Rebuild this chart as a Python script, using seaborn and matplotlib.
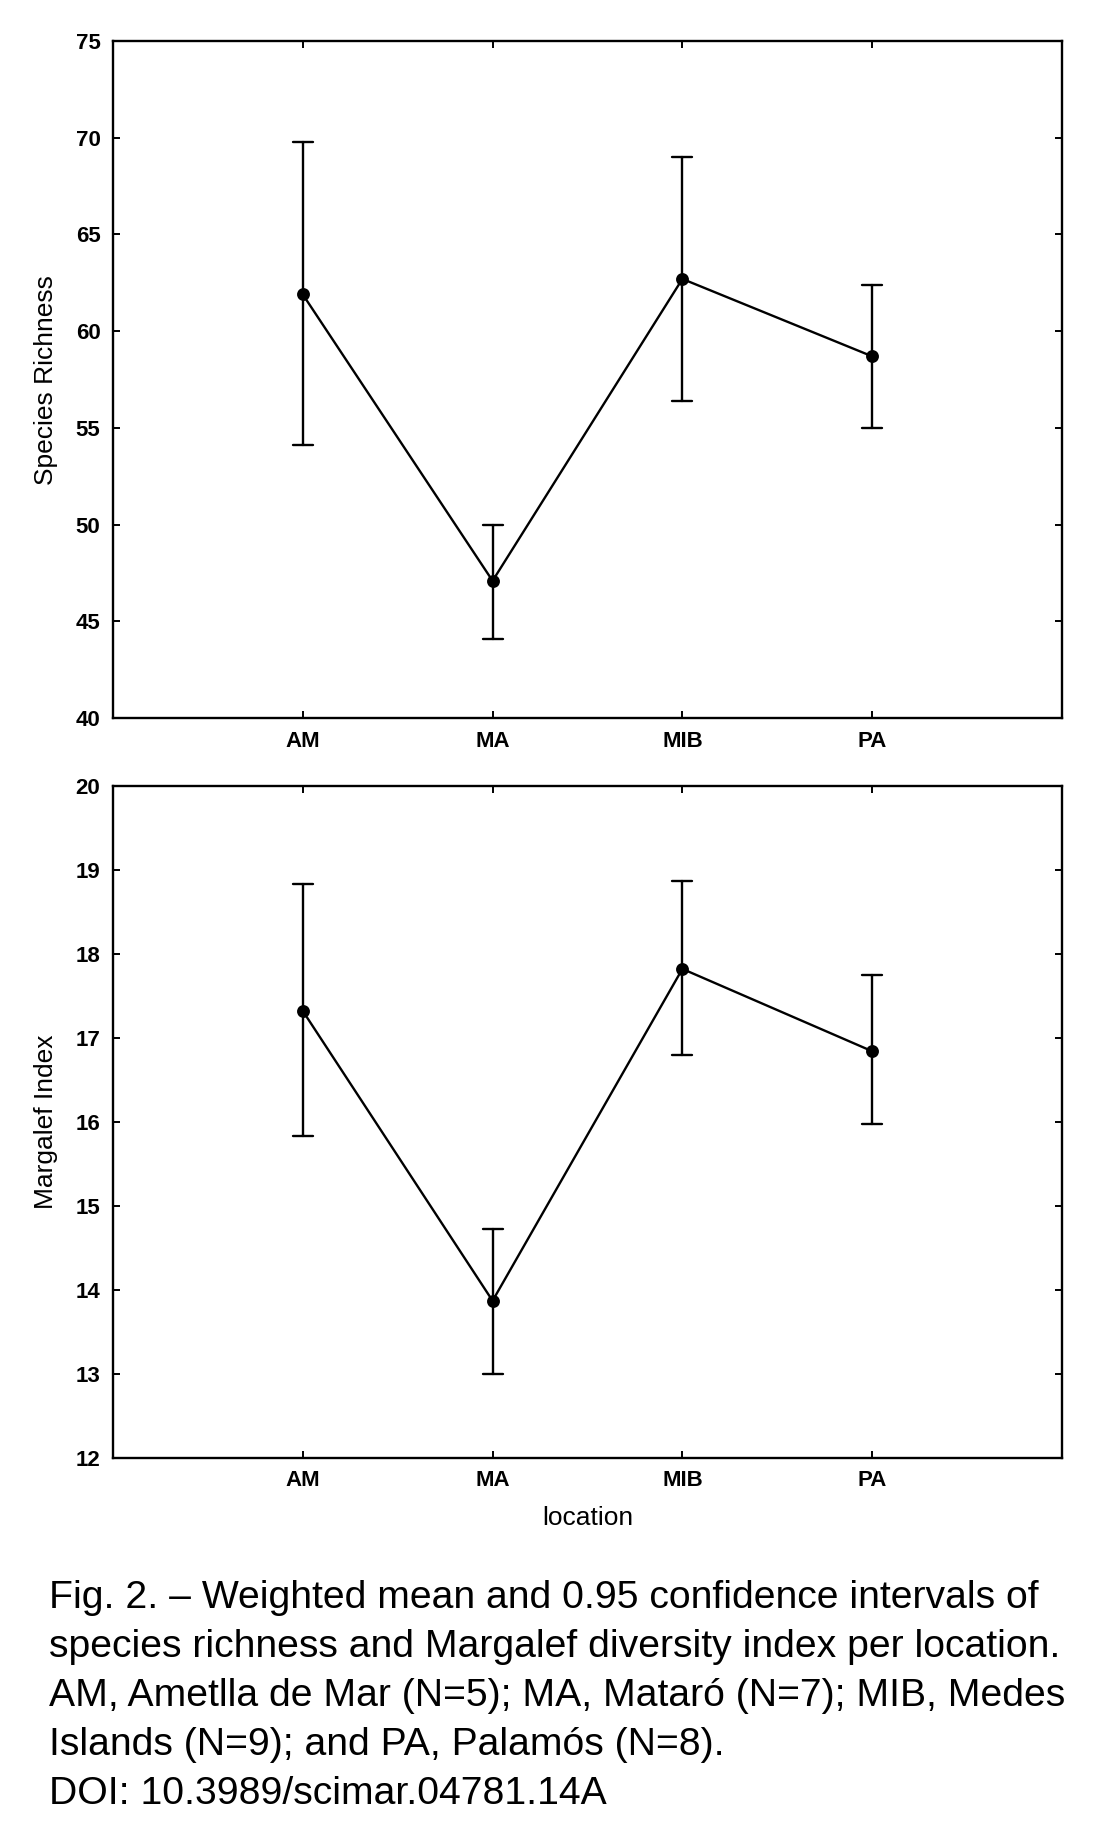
import pandas as pd
import matplotlib.pyplot as plt
import seaborn as sns

# values: weighted mean with lower / upper 0.95 CI
locations = ['AM', 'MA', 'MIB', 'PA']

richness_mean = [61.9, 47.1, 62.7, 58.7]
richness_low = [54.1, 44.1, 56.4, 55.0]
richness_high = [69.8, 50.0, 69.0, 62.4]

margalef_mean = [17.32, 13.87, 17.82, 16.84]
margalef_low = [15.83, 13.00, 16.79, 15.98]
margalef_high = [18.83, 14.73, 18.87, 17.75]

caption_lines = [
    'Fig. 2. \u2013 Weighted mean and 0.95 confidence intervals of',
    'species richness and Margalef diversity index per location.',
    'AM, Ametlla de Mar (N=5); MA, Matar\u00f3 (N=7); MIB, Medes',
    'Islands (N=9); and PA, Palam\u00f3s (N=8).',
    'DOI: 10.3989/scimar.04781.14A',
]

sns.set_style('ticks')
plt.rcParams['font.family'] = ['Liberation Sans', 'DejaVu Sans']
plt.rcParams['text.color'] = 'black'
plt.rcParams['axes.labelcolor'] = 'black'


def long_table(mean, low, high):
    # three rows per location: median = mean, min/max = CI limits
    rows = []
    for loc, m, lo, hi in zip(locations, mean, low, high):
        for v in (lo, m, hi):
            rows.append({'location': loc, 'value': v})
    return pd.DataFrame(rows)


def draw(ax, df, ylim, yticks, ylabel):
    sns.pointplot(data=df, x='location', y='value', order=locations,
                  estimator='median', errorbar=('pi', 100),
                  color='black', capsize=0.105, markersize=8, linewidth=1.7,
                  err_kws={'linewidth': 1.7}, ax=ax)
    ax.set_xlim(-1, 4)
    ax.set_ylim(*ylim)
    ax.set_yticks(yticks)
    for s in ax.spines.values():
        s.set_visible(True)
        s.set_linewidth(1.7)
        s.set_color('black')
    ax.tick_params(direction='in', top=True, right=True, length=5,
                   width=1.4, pad=9, labelsize=16, colors='black')
    for lab in ax.get_xticklabels() + ax.get_yticklabels():
        lab.set_fontweight('bold')
    ax.set_ylabel(ylabel, fontsize=19, color='black')
    ax.yaxis.set_label_coords(-0.058, 0.5)


fig = plt.figure(figsize=(11.02, 18.35), dpi=100)
ax1 = fig.add_axes([0.1025, 0.6086, 0.8612, 0.3691])
ax2 = fig.add_axes([0.1025, 0.2055, 0.8612, 0.3663])

draw(ax1, long_table(richness_mean, richness_low, richness_high),
     (40, 75), range(40, 76, 5), 'Species Richness')
ax1.set_xlabel('')

draw(ax2, long_table(margalef_mean, margalef_low, margalef_high),
     (12, 20), range(12, 21), 'Margalef Index')
ax2.set_xlabel('location', fontsize=19, color='black')
ax2.xaxis.set_label_coords(0.5, -0.072)

for i, line in enumerate(caption_lines):
    y = 1598 + 49 * i
    fig.text(49 / 1102, 1 - y / 1835, line, fontsize=28.2, va='center',
             ha='left', color='black')

fig.savefig('out.png', dpi=100)
